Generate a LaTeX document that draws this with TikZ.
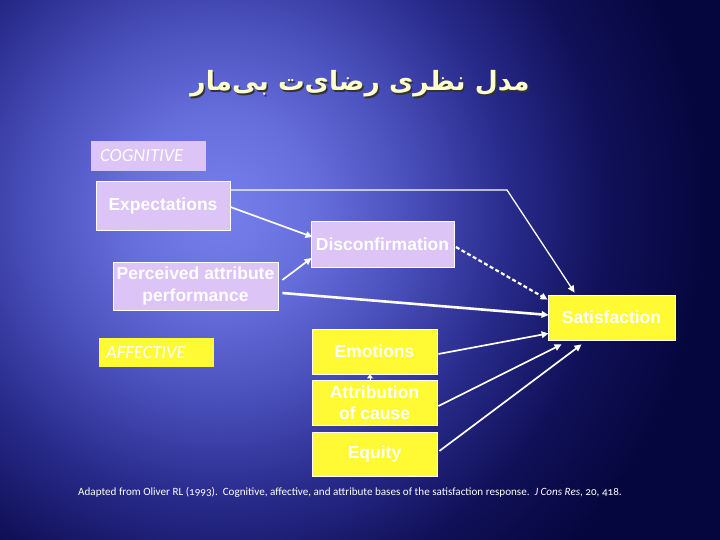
\documentclass[tikz,border=0pt]{standalone}
\usepackage{fontspec}
\setmainfont{Liberation Sans}
\newfontfamily\calib[Numbers=OldStyle]{Carlito}
\newfontfamily\arabicfont[Script=Arabic]{DejaVu Sans}
\TeXXeTstate=1
\usetikzlibrary{arrows.meta,calc}
\definecolor{bgA}{RGB}{118,128,236}
\definecolor{bgB}{RGB}{102,110,220}
\definecolor{bgC}{RGB}{72,78,185}
\definecolor{bgD}{RGB}{40,42,138}
\definecolor{bgE}{RGB}{16,16,88}
\definecolor{bgF}{RGB}{6,6,62}
\definecolor{lavc}{RGB}{220,196,246}
\definecolor{yelc}{RGB}{255,250,52}
\definecolor{titlec}{RGB}{255,255,205}
\pgfdeclareradialshading{bgshade}{\pgfpoint{0bp}{0bp}}{%
color(0bp)=(bgA); color(3.04bp)=(bgB); color(6.07bp)=(bgC); color(9.11bp)=(bgD); color(12.15bp)=(bgE); color(15.19bp)=(bgF); color(50bp)=(bgF)}
\tikzset{
  box/.style={draw=white, line width=0.8pt, text=white, align=center, inner sep=0pt,
    font=\bfseries\fontsize{17.5}{21.5}\selectfont},
  lavbox/.style={box, fill=lavc},
  yelbox/.style={box, fill=yelc},
  tagbox/.style={inner sep=0pt, text=white, font=\calib\itshape\fontsize{18.5}{20}\selectfont},
  arr/.style={white, line width=1.7pt, -{Triangle[length=7pt,width=6.5pt]}},
}
\begin{document}
\begin{tikzpicture}[x=1pt,y=-1pt]
\useasboundingbox (0,0) rectangle (720,540);
\begin{scope}
\clip (0,0) rectangle (720,540);
\fill[bgF] (0,0) rectangle (720,540);
\shade[shading=bgshade] (220,210) circle (800);
\end{scope}
% title
\node[text=black!80, font=\arabicfont\bfseries\fontsize{26.5}{32}\selectfont] at (361.5,85.5) {\beginR مدل نظری رضای‌ت بی‌مار\endR};
\node[text=titlec, font=\arabicfont\bfseries\fontsize{26.5}{32}\selectfont] (title) at (360,84) {\beginR مدل نظری رضای‌ت بی‌مار\endR};
% tags
\node[tagbox, fill=lavc, minimum width=115pt, minimum height=30pt] (cog) at (148.5,156) {};
\node[tagbox, anchor=west] (cogt) at (100,156) {COGNITIVE};
\node[tagbox, fill=yelc, minimum width=115pt, minimum height=29pt] (aff) at (156.5,352.5) {};
\node[tagbox, anchor=west] (afft) at (106,352.5) {AFFECTIVE};
% boxes
\node[lavbox, minimum width=134pt, minimum height=49pt] (exp) at (163,205.5) {Expectations};
\node[lavbox, minimum width=143pt, minimum height=46pt] (dis) at (382.5,244) {Disconfirmation};
\node[lavbox, minimum width=165pt, minimum height=48pt] (per) at (195.5,286) {Perceived attribute\\performance};
\node[yelbox, minimum width=127pt, minimum height=45pt] (sat) at (611.5,317.5) {Satisfaction};
\node[yelbox, minimum width=125pt, minimum height=45pt] (emo) at (374.5,351.5) {Emotions};
\node[yelbox, minimum width=125pt, minimum height=45pt] (att) at (374.5,402.5) {Attribution\\of cause};
\node[yelbox, minimum width=125pt, minimum height=44pt] (equ) at (374.5,454) {Equity};
% connectors
\coordinate (bend) at (507,190);
\draw[arr, line width=1.3pt] ([yshift=15.5pt]exp.east) -- (bend) -- ([xshift=27pt,yshift=2pt]sat.north west);
\draw[arr] ([yshift=-1.5pt]exp.east) -- ([xshift=2pt,yshift=7pt]dis.west);
\draw[arr] ([xshift=4pt,yshift=6pt]per.east) -- ([xshift=1pt,yshift=-14pt]dis.west);
\draw[arr, line width=2.6pt] ([xshift=4pt,yshift=-7pt]per.east) -- ([xshift=1pt,yshift=2.5pt]sat.west);
\draw[arr, line width=2.2pt, dashed, dash pattern=on 4pt off 2.5pt] ([xshift=1.5pt,yshift=-3pt]dis.east) -- ([xshift=0pt,yshift=-5pt]sat.north west);
\draw[arr] ([xshift=1pt,yshift=-2.5pt]emo.east) -- ([xshift=1pt,yshift=7pt]sat.south west);
\draw[arr] ([xshift=1pt,yshift=-3.5pt]att.east) -- ([xshift=14pt,yshift=-4pt]sat.south west);
\draw[arr] ([xshift=2pt,yshift=3pt]equ.east) -- ([xshift=34pt,yshift=-4pt]sat.south west);
\draw[white, line width=1pt, -{Triangle[length=4pt,width=6pt]}] ([xshift=-4.5pt]att.north) -- ([xshift=-4.5pt]emo.south);
% footnote
\node[anchor=west, text=white, inner sep=0pt, font=\calib\fontsize{11.1}{13}\selectfont] (foot) at (78,492) {Adapted from Oliver RL (1993).\ \ Cognitive, affective, and attribute bases of the satisfaction response.\ \ \textit{J Cons Res}, 20, 418.};
\end{tikzpicture}
\end{document}
